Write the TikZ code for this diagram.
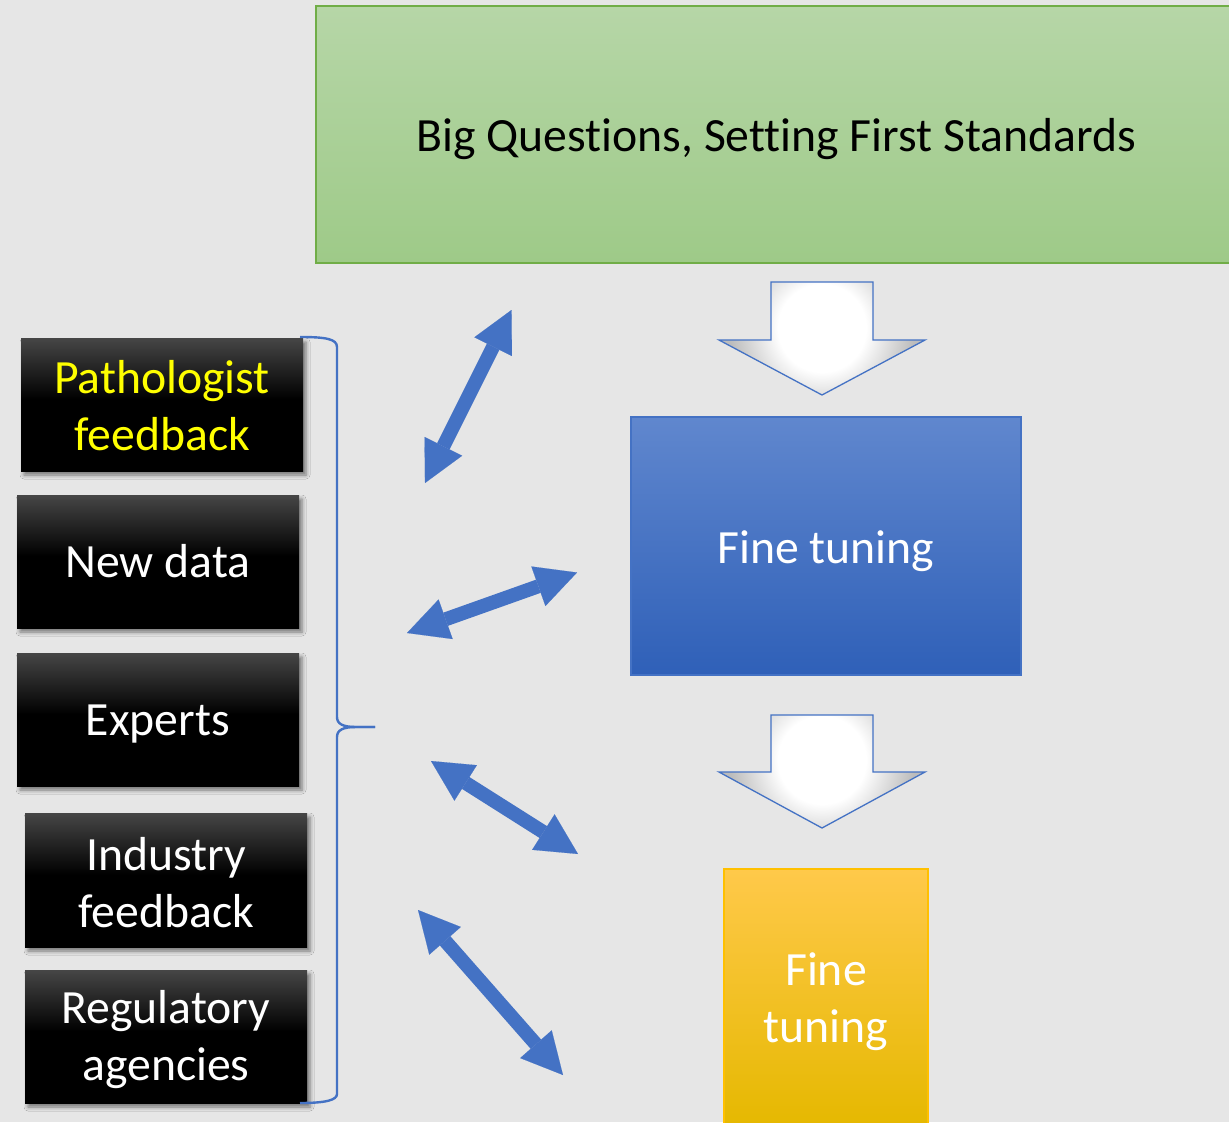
\documentclass[tikz,border=0pt]{standalone}
\usepackage{fontspec}
\setmainfont{Carlito}[Ligatures=NoCommon]
\usetikzlibrary{arrows.meta,shadows.blur}

\definecolor{bg}{RGB}{230,230,230}
\definecolor{greentop}{RGB}{182,214,167}
\definecolor{greenbot}{RGB}{158,202,136}
\definecolor{greenline}{RGB}{112,173,71}
\definecolor{bluetop}{RGB}{96,135,206}
\definecolor{bluebot}{RGB}{47,96,184}
\definecolor{accent}{RGB}{68,114,196}
\definecolor{goldtop}{RGB}{255,201,74}
\definecolor{goldmid}{RGB}{255,199,0}
\definecolor{goldbot}{RGB}{229,184,0}
\definecolor{goldline}{RGB}{255,192,0}
\definecolor{boxtop}{RGB}{70,70,70}
\definecolor{glowedge}{RGB}{188,188,188}
\definecolor{hilite}{RGB}{255,255,0}

% black label boxes: dark grey at the top fading into black
\pgfdeclareverticalshading{blackbox}{100bp}{color(0bp)=(black); color(25bp)=(black);
  color(52bp)=(black); color(75bp)=(boxtop); color(100bp)=(boxtop)}
% hollow down arrows: white glow in the middle, grey towards the rim
\pgfdeclareradialshading{glow}{\pgfpoint{0bp}{0bp}}{color(0bp)=(white); color(10bp)=(white);
  color(21bp)=(glowedge); color(50bp)=(glowedge)}

% lower a line of text without changing its box
\newcommand{\lowr}[2]{\raisebox{-#1}[\height][\depth]{#2}}

\tikzset{
  bigfont/.style={font=\fontsize{47.7}{57}\selectfont},
  blackbox/.style={bigfont, shading=blackbox, text=white, align=center,
    minimum width=282pt, minimum height=133pt, inner sep=0pt,
    blur shadow={shadow xshift=3pt, shadow yshift=-4pt, shadow blur radius=4pt, shadow opacity=50}},
  stagebox/.style={bigfont, align=center, inner sep=0pt, line width=1.2pt},
  hollowrim/.style={draw=accent, line width=1.3pt, line join=miter},
  dblarrow/.style={accent, line width=14pt,
    {Triangle[length=41pt,width=42pt,line width=0.1pt]}-{Triangle[length=41pt,width=42pt,line width=0.1pt]}},
  bracket/.style={accent, line width=2.4pt},
}

\begin{document}
\begin{tikzpicture}[x=1pt,y=-1pt]
\useasboundingbox[fill=bg] (0,0) rectangle (1229,1122);

% stage boxes
\node[stagebox, top color=greentop, bottom color=greenbot, draw=greenline,
  minimum width=921pt, minimum height=257pt] (big) at (776.5,134.5)
  {\lowr{5pt}{Big Questions, Setting First Standards}};
\node[stagebox, top color=bluetop, bottom color=bluebot, draw=accent, text=white,
  minimum width=390pt, minimum height=258pt] (fine1) at (826,546) {\lowr{5pt}{Fine tuning}};
\node[stagebox, top color=goldtop, middle color=goldmid, bottom color=goldbot, draw=goldline, text=white,
  minimum width=204pt, minimum height=259pt] (fine2) at (826,998.5)
  {\lowr{3pt}{Fine}\\\lowr{3pt}{tuning}};

% hollow arrows between the stages
\begin{scope}
  \clip (771,282) -- (873,282) -- (873,340) -- (925,340) -- (822,395) -- (719,340) -- (771,340) -- cycle;
  \shade[shading=glow] (822,328) circle[radius=110];
\end{scope}
\draw[hollowrim] (771,282) -- (873,282) -- (873,340) -- (925,340) -- (822,395) -- (719,340) -- (771,340) -- cycle;
\begin{scope}
  \clip (771,715) -- (873,715) -- (873,772) -- (925,772) -- (822,828) -- (719,772) -- (771,772) -- cycle;
  \shade[shading=glow] (822,760) circle[radius=110];
\end{scope}
\draw[hollowrim] (771,715) -- (873,715) -- (873,772) -- (925,772) -- (822,828) -- (719,772) -- (771,772) -- cycle;

% input sources
\node[blackbox, text=hilite] (path) at (162,404.5) {\lowr{1pt}{Pathologist}\\\lowr{1pt}{feedback}};
\node[blackbox] (data) at (158,561.5) {New data};
\node[blackbox] (experts) at (158,719.5) {\lowr{5pt}{Experts}};
\node[blackbox, minimum height=134pt] (industry) at (166,880) {\lowr{3pt}{Industry}\\\lowr{3pt}{feedback}};
\node[blackbox] (agencies) at (166,1036.5) {\lowr{3pt}{Regulatory}\\\lowr{3pt}{agencies}};

% bracket gathering the sources
\coordinate (btop) at (300,337);
\coordinate (bbot) at (300,1103);
\coordinate (btip) at (375,727);
\draw[bracket] (btop) .. controls (326,337) and (337,339) .. (337,347)
  -- (337,717) .. controls (337,724) and (343,727) .. (356,727) -- (btip);
\draw[bracket] (btip) -- (356,727) .. controls (343,727) and (337,730) .. (337,737)
  -- (337,1094) .. controls (337,1100) and (326,1103) .. (bbot);

% two-way exchanges
\coordinate (x1a) at (425,483);  \coordinate (x1b) at (511.5,310);
\coordinate (x2a) at (407,633);  \coordinate (x2b) at (577,572.5);
\coordinate (x3a) at (431,761);  \coordinate (x3b) at (578,854);
\coordinate (x4a) at (418,910);  \coordinate (x4b) at (563,1075);
\draw[dblarrow] (x1a) -- (x1b);
\draw[dblarrow] (x2a) -- (x2b);
\draw[dblarrow] (x3a) -- (x3b);
\draw[dblarrow] (x4a) -- (x4b);
\end{tikzpicture}
\end{document}
